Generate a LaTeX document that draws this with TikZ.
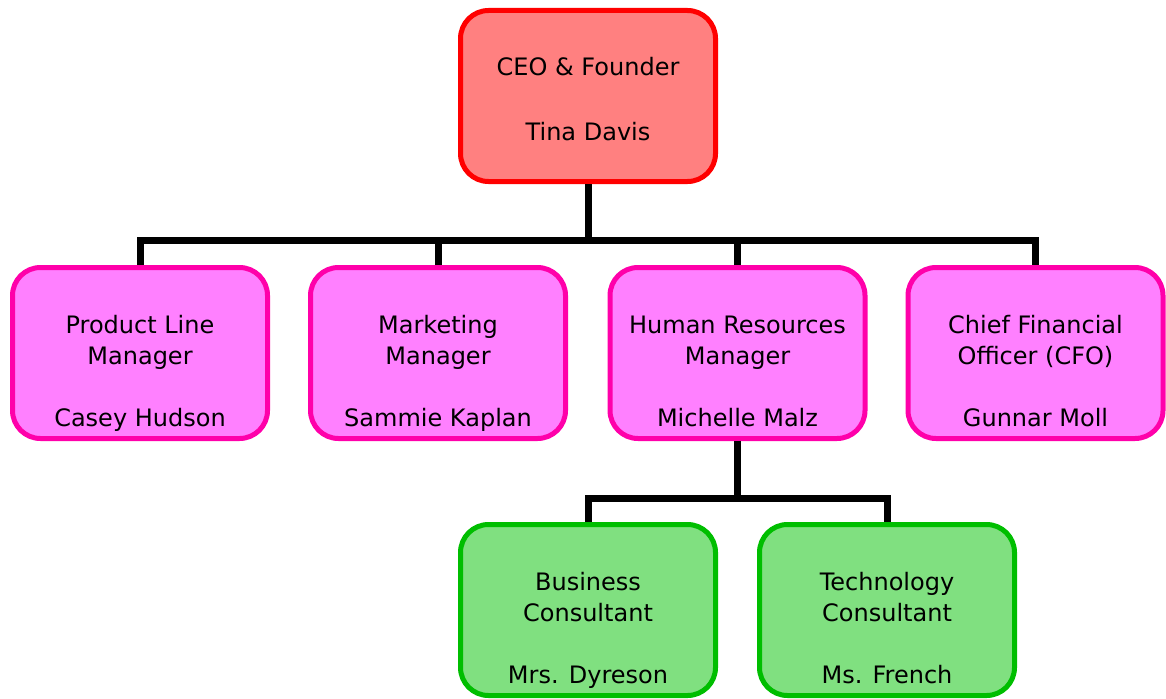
\documentclass[tikz,border=0pt]{standalone}
\usepackage{fontspec}
\setmainfont{DejaVu Sans}
\usetikzlibrary{calc}

\definecolor{ceofill}{RGB}{255,128,128}
\definecolor{ceoline}{RGB}{255,0,0}
\definecolor{mgrfill}{RGB}{255,128,255}
\definecolor{mgrline}{RGB}{255,0,170}
\definecolor{conpfill}{RGB}{128,224,128}
\definecolor{conline}{RGB}{0,190,0}

\tikzset{
  orgbox/.style={draw, line width=5pt, rounded corners=28pt,
    minimum width=255pt, minimum height=171pt, inner sep=0pt},
  ceobox/.style={orgbox, fill=ceofill, draw=ceoline},
  mgrbox/.style={orgbox, fill=mgrfill, draw=mgrline},
  conbox/.style={orgbox, fill=conpfill, draw=conline},
  orgtext/.style={anchor=north, align=center, inner sep=0pt,
    font=\fontsize{24}{31}\selectfont, text=black},
  link/.style={draw=black, line width=7pt, line join=miter}
}

\begin{document}
\begin{tikzpicture}[x=1pt, y=-1pt]
  \useasboundingbox (0,0) rectangle (1166,698);

  % boxes
  \node[ceobox] (ceo) at (588,96)    {};
  \node[mgrbox] (plm) at (140,353)   {};
  \node[mgrbox] (mkt) at (438,353)   {};
  \node[mgrbox] (hrm) at (737.5,353) {};
  \node[mgrbox] (cfo) at (1035.5,353){};
  \node[conbox] (biz) at (588,610)   {};
  \node[conbox] (tec) at (887,610)   {};

  % labels
  \node[orgtext] (ceo-t) at ($(ceo.north)+(0,49)$)
    {\vphantom{Xd}CEO \& Founder\\[34pt]Tina Davis};
  \node[orgtext] (plm-t) at ($(plm.north)+(0,50)$)
    {\vphantom{Xd}Product Line\\Manager\\[31pt]Casey Hudson};
  \node[orgtext] (mkt-t) at ($(mkt.north)+(0,50)$)
    {\vphantom{Xd}Marketing\\Manager\\[31pt]Sammie Kaplan};
  \node[orgtext] (hrm-t) at ($(hrm.north)+(0,50)$)
    {\vphantom{Xd}Human Resources\\Manager\\[31pt]Michelle Malz};
  \node[orgtext] (cfo-t) at ($(cfo.north)+(0,50)$)
    {\vphantom{Xd}Chief Financial\\Officer (CFO)\\[31pt]Gunnar Moll};
  \node[orgtext] (biz-t) at ($(biz.north)+(0,50)$)
    {\vphantom{Xd}Business\\Consultant\\[31pt]Mrs. Dyreson};
  \node[orgtext] (tec-t) at ($(tec.north)+(0,50)$)
    {\vphantom{Xd}Technology\\Consultant\\[31pt]Ms. French};

  % connector buses
  \coordinate (bus) at (588,240.5);
  \coordinate (sub) at (737.5,498.5);

  \draw[link] (ceo.south) -- (bus);
  \draw[link] (plm.north) |- (bus) -| (cfo.north);
  \draw[link] (mkt.north) -- (mkt.north |- bus);
  \draw[link] (hrm.north) -- (hrm.north |- bus);

  \draw[link] (hrm.south) -- (sub);
  \draw[link] (biz.north) |- (sub) -| (tec.north);
\end{tikzpicture}
\end{document}
